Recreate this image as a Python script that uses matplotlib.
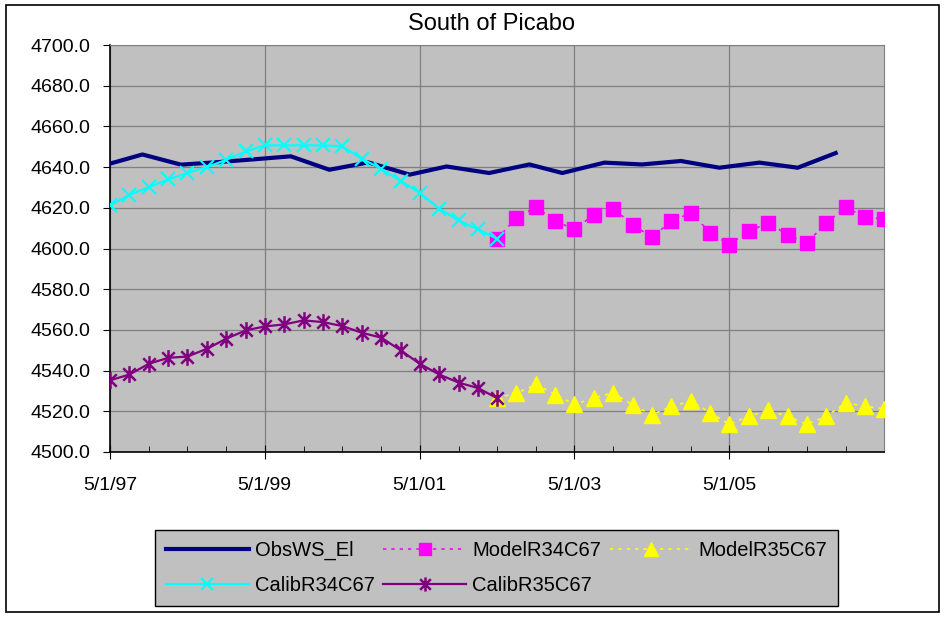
"""South of Picabo - water surface elevation, observed vs calibrated / model runs."""
import matplotlib
matplotlib.use("Agg")
import matplotlib.pyplot as plt
import matplotlib.dates as mdates
import matplotlib.ticker as mticker
from matplotlib.path import Path
from matplotlib.patches import Rectangle
import pandas as pd

plt.rcParams["font.family"] = ["Liberation Sans", "DejaVu Sans"]

# ── Data ──────────────────────────────────────────────────────────────────────
OBS_DATES = [
    "1997-05-01", "1997-10-01", "1998-04-01", "1998-10-01", "1999-04-01",
    "1999-09-01", "2000-03-01", "2000-09-01", "2001-03-15", "2001-09-05",
    "2002-03-25", "2002-10-01", "2003-03-05", "2003-09-20", "2004-03-15",
    "2004-09-15", "2005-03-15", "2005-09-20", "2006-03-20", "2006-09-15",
]
OBS_WS_EL = [
    4641.7, 4646.2, 4641.2, 4642.5, 4644.0, 4645.3, 4638.7, 4642.3, 4636.3, 4640.3,
    4637.1, 4641.3, 4637.1, 4642.2, 4641.3, 4643.0, 4639.7, 4642.2, 4639.7, 4646.9,
]

CALIB_DATES = [
    "1997-05-01", "1997-08-01", "1997-11-01", "1998-02-01", "1998-05-01",
    "1998-08-01", "1998-11-01", "1999-02-01", "1999-05-01", "1999-08-01",
    "1999-11-01", "2000-02-01", "2000-05-01", "2000-08-01", "2000-11-01",
    "2001-02-01", "2001-05-01", "2001-08-01", "2001-11-01", "2002-02-01",
    "2002-05-01",
]
CALIB_R34 = [
    4621.2, 4626.4, 4630.2, 4634.0, 4637.1, 4640.0, 4643.6, 4647.7, 4650.7, 4650.7,
    4650.7, 4650.7, 4650.2, 4644.1, 4639.2, 4633.1, 4627.4, 4619.6, 4613.8, 4609.4,
    4604.8,
]
CALIB_R35 = [
    4535.2, 4538.1, 4543.4, 4546.3, 4546.9, 4550.7, 4555.7, 4559.8, 4561.7, 4562.7,
    4564.7, 4563.8, 4561.9, 4558.6, 4556.2, 4549.9, 4543.4, 4538.1, 4534.1, 4531.4,
    4526.5,
]

MODEL_DATES = [
    "2002-05-01", "2002-08-01", "2002-11-01", "2003-02-01", "2003-05-01",
    "2003-08-01", "2003-11-01", "2004-02-01", "2004-05-01", "2004-08-01",
    "2004-11-01", "2005-02-01", "2005-05-01", "2005-08-01", "2005-11-01",
    "2006-02-01", "2006-05-01", "2006-08-01", "2006-11-01", "2007-02-01",
    "2007-05-01",
]
MODEL_R34 = [
    4604.8, 4615.1, 4620.3, 4613.5, 4609.4, 4616.6, 4619.6, 4611.6, 4605.6, 4613.5,
    4617.4, 4607.8, 4601.9, 4608.6, 4612.5, 4606.8, 4602.7, 4612.5, 4620.3, 4615.4,
    4614.5,
]
MODEL_R35 = [
    4526.5, 4528.9, 4533.2, 4528.2, 4523.4, 4526.5, 4529.1, 4523.0, 4518.3, 4522.4,
    4525.0, 4519.3, 4513.6, 4517.5, 4520.5, 4517.5, 4513.6, 4517.5, 4524.2, 4522.4,
    4521.3,
]

XTICK_DATES = ["1997-05-01", "1999-05-01", "2001-05-01", "2003-05-01", "2005-05-01"]
XTICK_LABELS = ["5/1/97", "5/1/99", "5/1/01", "5/1/03", "5/1/05"]

# ── Style ─────────────────────────────────────────────────────────────────────
NAVY = "#000080"
CYAN = "#00FFFF"
MAGENTA = "#FF00FF"
YELLOW = "#FFFF00"
PURPLE = "#800080"
PLOT_BG = "#C0C0C0"
GRID = "#808080"

# Excel style asterisk: vertical bar plus an x
ASTERISK = Path(
    [(0, -1), (0, 1), (-0.75, -0.75), (0.75, 0.75), (-0.75, 0.75), (0.75, -0.75)],
    [Path.MOVETO, Path.LINETO, Path.MOVETO, Path.LINETO, Path.MOVETO, Path.LINETO],
)

obs_d = pd.to_datetime(OBS_DATES)
cal_d = pd.to_datetime(CALIB_DATES)
mod_d = pd.to_datetime(MODEL_DATES)

fig = plt.figure(figsize=(9.45, 6.18), dpi=100)
fig.patch.set_facecolor("white")
fig.patches.append(Rectangle((0.006, 0.009), 0.988, 0.983, transform=fig.transFigure,
                             fill=False, edgecolor="black", linewidth=1.2))

ax = fig.add_axes([110 / 945, 1 - 452 / 618, 774 / 945, 407 / 618])
ax.set_facecolor(PLOT_BG)

h_obs, = ax.plot(obs_d, OBS_WS_EL, color=NAVY, linewidth=3, label="ObsWS_El", zorder=3)
h_m34, = ax.plot(mod_d, MODEL_R34, color=MAGENTA, linewidth=1.2, linestyle=(0, (2, 3)),
                 marker="s", markersize=10, label="ModelR34C67", zorder=4)
h_m35, = ax.plot(mod_d, MODEL_R35, color=YELLOW, linewidth=1.2, linestyle=(0, (2, 3)),
                 marker="^", markersize=11.5, label="ModelR35C67", zorder=4)
h_c34, = ax.plot(cal_d, CALIB_R34, color=CYAN, linewidth=1.6, marker="x", markersize=10,
                 markeredgewidth=1.5, label="CalibR34C67", zorder=5)
h_c35, = ax.plot(cal_d, CALIB_R35, color=PURPLE, linewidth=1.6, marker=ASTERISK,
                 markersize=12, markeredgewidth=1.8, label="CalibR35C67", zorder=5)

ax.set_ylim(4500, 4700)
ax.set_xlim(pd.Timestamp("1997-05-01"), pd.Timestamp("2007-05-01"))
ax.yaxis.set_major_locator(mticker.MultipleLocator(20))
ax.yaxis.set_major_formatter(mticker.FormatStrFormatter("%.1f"))
ax.set_xticks(pd.to_datetime(XTICK_DATES))
ax.set_xticklabels(XTICK_LABELS)
ax.xaxis.set_minor_locator(mdates.MonthLocator(bymonth=[5, 11]))

ax.grid(True, which="major", color=GRID, linewidth=0.9)
ax.set_axisbelow(True)
for side in ("top", "right"):
    ax.spines[side].set_color(GRID)
for side in ("left", "bottom"):
    ax.spines[side].set_color("black")
    ax.spines[side].set_linewidth(1.2)

ax.tick_params(axis="y", direction="out", length=5, pad=9, labelsize=14, colors="black")
ax.tick_params(axis="x", which="major", direction="inout", length=10, pad=13, labelsize=14)
ax.tick_params(axis="x", which="minor", direction="in", length=4)

title = ax.set_title("South of Picabo", fontsize=17, pad=11)
title.set_x(0.493)

leg = fig.legend(
    [h_obs, h_c34, h_m34, h_c35, h_m35],
    ["ObsWS_El", "CalibR34C67", "ModelR34C67", "CalibR35C67", "ModelR35C67"],
    ncol=3, loc="center", mode="expand",
    bbox_to_anchor=(155 / 945, 1 - 608 / 618, 683 / 945, 80 / 618),
    borderaxespad=0, fontsize=14.5, handlelength=4.1, handletextpad=0.3,
    labelspacing=0.8, borderpad=0.55, numpoints=1, markerscale=0.85,
    fancybox=False, framealpha=1,
)
leg.get_frame().set_facecolor(PLOT_BG)
leg.get_frame().set_edgecolor("black")
leg.get_frame().set_linewidth(1.0)

fig.savefig("out.png", dpi=100)
